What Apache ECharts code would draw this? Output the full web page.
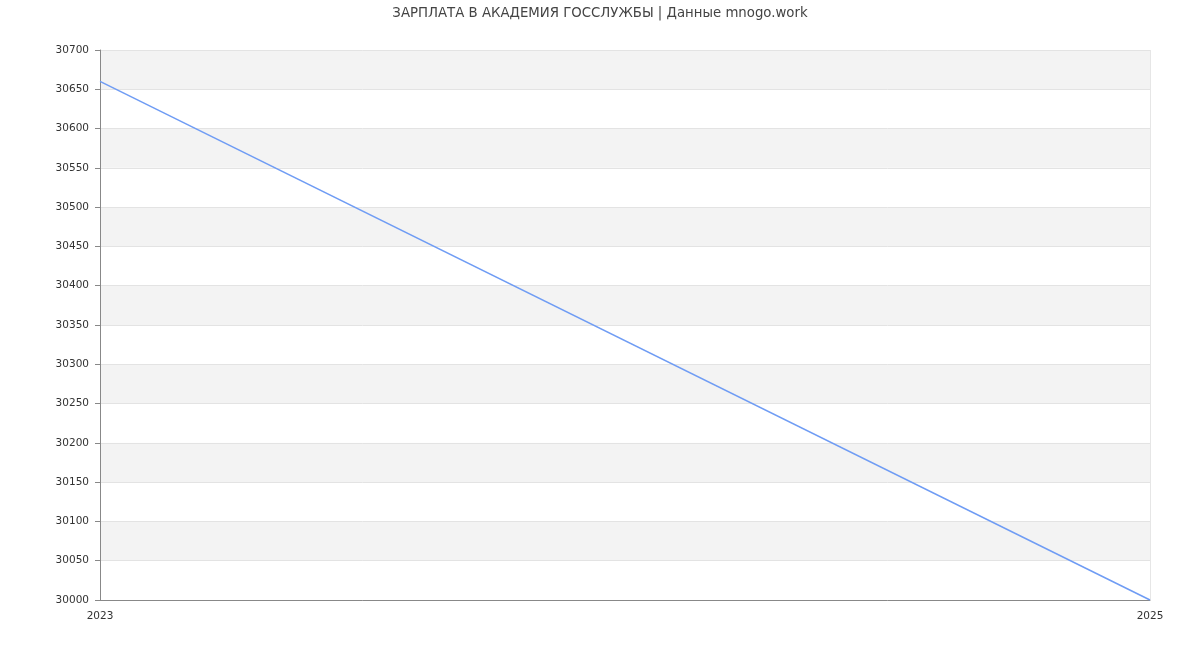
<!DOCTYPE html>
<html><head><meta charset="utf-8">
<script src="https://cdn.jsdelivr.net/npm/echarts@6/dist/echarts.min.js"></script>
<style>html,body{margin:0;padding:0;background:#fff}#c{width:1200px;height:650px}</style>
</head><body><div id="c"></div>
<script>
const titleText = 'ЗАРПЛАТА В АКАДЕМИЯ ГОССЛУЖБЫ | Данные mnogo.work';
const years = ['2023', '2025'];
const salary = [30660, 30000];
const yMin = 30000, yMax = 30700, yStep = 50;

const chart = echarts.init(document.getElementById('c'));
chart.setOption({
  animation: false,
  textStyle: { fontFamily: 'DejaVu Sans' },
  title: { text: titleText, left: 'center', top: 2,
    textStyle: { fontSize: 13.3, fontWeight: 'normal', color: '#444', fontFamily: 'DejaVu Sans' } },
  grid: { left: 100, right: 50, top: 50, bottom: 50 },
  xAxis: { type: 'category', data: years, boundaryGap: false,
    axisLine: { lineStyle: { color: '#888' } }, axisTick: { show: false },
    axisLabel: { color: '#333', fontSize: 10.5, margin: 11 },
    splitLine: { show: true, lineStyle: { color: '#e6e6e6' } } },
  yAxis: { type: 'value', min: yMin, max: yMax, interval: yStep,
    axisLine: { show: true, lineStyle: { color: '#888' } },
    axisTick: { show: true, length: 5, lineStyle: { color: '#888' } },
    axisLabel: { color: '#333', fontSize: 10.5, margin: 11, formatter: v => String(v) },
    splitLine: { show: true, lineStyle: { color: '#e3e3e3' } },
    splitArea: { show: true, areaStyle: { color: ['#ffffff', '#f3f3f3'] } } },
  series: [{ type: 'line', data: salary, symbol: 'none',
    lineStyle: { color: '#6f9cf4', width: 1.5 } }]
});
</script></body></html>
